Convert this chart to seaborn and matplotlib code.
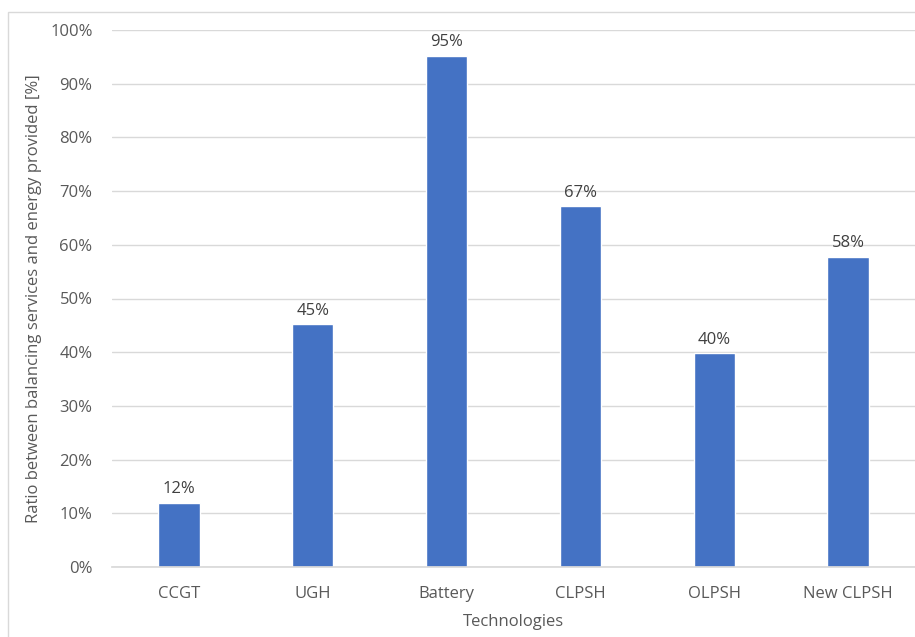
import matplotlib
matplotlib.use("Agg")
import matplotlib.pyplot as plt
import seaborn as sns
import pandas as pd
from matplotlib.patches import Rectangle
from matplotlib.ticker import PercentFormatter

# data
technologies = ["CCGT", "UGH", "Battery", "CLPSH", "OLPSH", "New CLPSH"]
ratios = [0.12, 0.452, 0.952, 0.672, 0.398, 0.578]
labels = ["12%", "45%", "95%", "67%", "40%", "58%"]

df = pd.DataFrame({"Technologies": technologies, "Ratio": ratios})

sns.set_theme(style="white")
plt.rcParams["font.family"] = ["Open Sans", "DejaVu Sans"]

fs = 12
fig = plt.figure(figsize=(9.15, 6.37), dpi=100)
ax = fig.add_axes([112 / 915, 1 - 567 / 637, 1 - 112 / 915, (567 - 30) / 637])

sns.barplot(data=df, x="Technologies", y="Ratio", color="#4472C4",
            width=0.31, saturation=1, ax=ax)

for i, (v, lab) in enumerate(zip(ratios, labels)):
    ax.text(i, v + 0.01, lab, ha="center", va="bottom", fontsize=fs, color="#404040")

ax.set_ylim(0, 1.0)
ax.set_xlim(-0.5, len(technologies) - 0.5)
ax.set_yticks([i / 10 for i in range(11)])
ax.yaxis.set_major_formatter(PercentFormatter(1.0, decimals=0))
ax.grid(axis="y", color="#D9D9D9", linewidth=1)
ax.set_axisbelow(True)
for s in ["top", "right", "left"]:
    ax.spines[s].set_visible(False)
ax.spines["bottom"].set_color("#D9D9D9")
ax.tick_params(axis="both", length=0, labelsize=fs, labelcolor="#595959")
ax.tick_params(axis="x", pad=14)
ax.tick_params(axis="y", pad=14)
ax.set_xlabel("Technologies", fontsize=fs, color="#595959", labelpad=8)
ax.set_ylabel("Ratio between balancing services and energy provided [%]",
              fontsize=fs, color="#595959", labelpad=6)

# outer chart frame (cropped at right and bottom)
fig.patches.append(Rectangle((8 / 915, -0.1), 1.2, 1 - 12 / 637 + 0.1,
                             transform=fig.transFigure, fill=False,
                             edgecolor="#D9D9D9", linewidth=1))

fig.savefig("out.png", dpi=100)
